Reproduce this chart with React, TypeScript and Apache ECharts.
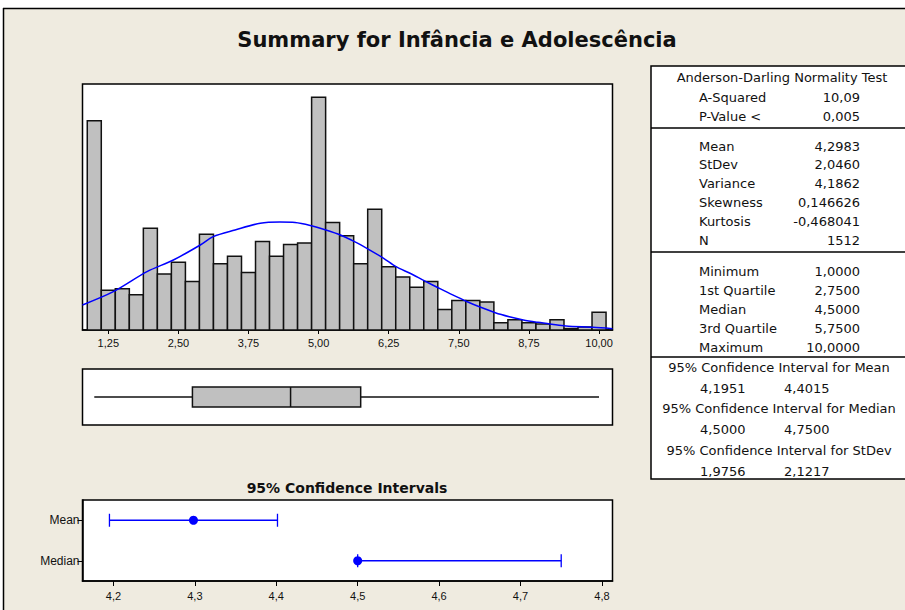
import React, { useEffect, useRef } from "react";
import * as echarts from "echarts";

// ---------- data ----------
const TITLE = "Summary for Infância e Adolescência";
const BIN_WIDTH = 0.25;
const BIN_MIDS = [1, 1.25, 1.5, 1.75, 2, 2.25, 2.5, 2.75, 3, 3.25, 3.5, 3.75, 4, 4.25, 4.5, 4.75, 5, 5.25, 5.5, 5.75, 6, 6.25, 6.5, 6.75, 7, 7.25, 7.5, 7.75, 8, 8.25, 8.5, 8.75, 9, 9.25, 9.5, 9.75, 10];
const BIN_COUNTS = [142, 27, 28, 24, 69, 38, 46, 33, 65, 45, 50, 39, 60, 50, 58, 59, 158, 73, 64, 45, 82, 43, 36, 29, 33, 14, 20, 20, 19, 5, 7, 5, 4, 7, 1, 2, 12];
const HIST_TICKS = [1.25, 2.5, 3.75, 5, 6.25, 7.5, 8.75, 10];
const CURVE_X = [0.79, 1.34, 1.94, 2.41, 2.89, 3.12, 3.51, 3.96, 4.31, 4.58, 4.85, 5.13, 5.39, 5.64, 5.89, 6.16, 6.38, 6.63, 6.89, 7.14, 7.39, 7.65, 7.89, 8.15, 8.4, 8.65, 8.91, 9.16, 9.41, 9.89, 10.24];
const CURVE_Y = [17.0, 26.0, 39.6, 47.5, 57.7, 63.4, 67.9, 72.5, 73.3, 73.0, 71.0, 67.9, 64.5, 60.0, 54.8, 48.7, 43.0, 38.5, 33.3, 28.5, 23.8, 19.2, 15.4, 11.7, 9.0, 6.8, 5.2, 3.9, 2.7, 1.8, 0.9];

const BOX_STATS = [1.0, 2.75, 4.5, 5.75, 10.0]; // min, Q1, median, Q3, max

const CI_ROWS = ["Mean", "Median"];
const CI_LOW = [4.1951, 4.5];
const CI_HIGH = [4.4015, 4.75];
const CI_POINT = [4.2983, 4.5];
const CI_TICKS = [4.2, 4.3, 4.4, 4.5, 4.6, 4.7, 4.8];

const AD_TITLE = "Anderson-Darling Normality Test";
const AD_LABELS = ["A-Squared", "P-Value <"];
const AD_VALUES = ["10,09", "0,005"];
const DESC_LABELS = ["Mean", "StDev", "Variance", "Skewness", "Kurtosis", "N"];
const DESC_VALUES = ["4,2983", "2,0460", "4,1862", "0,146626", "-0,468041", "1512"];
const QUART_LABELS = ["Minimum", "1st Quartile", "Median", "3rd Quartile", "Maximum"];
const QUART_VALUES = ["1,0000", "2,7500", "4,5000", "5,7500", "10,0000"];
const CI_TITLES = ["95% Confidence Interval for Mean", "95% Confidence Interval for Median", "95% Confidence Interval for StDev"];
const CI_TABLE_LOW = ["4,1951", "4,5000", "1,9756"];
const CI_TABLE_HIGH = ["4,4015", "4,7500", "2,1217"];

// ---------- layout ----------
const BG = "#EFEBE0";
const PLOT_L = 82.5;
const PLOT_W = 530;
const TFONT = '13px "DejaVu Sans", sans-serif';

function txt(text: string, x: number, y: number, align: string, font = TFONT, fill = "#111") {
  return {
    type: "text",
    x,
    y,
    silent: true,
    style: { text, fill, font, align, verticalAlign: "middle", textAlign: align, textVerticalAlign: "middle" },
  };
}

export default function App() {
  const ref = useRef<HTMLDivElement>(null);
  useEffect(() => {
    if (!ref.current) return;
    const chart = echarts.init(ref.current, null, { renderer: "svg" });

    const graphics: any[] = [];
    // page frame
    graphics.push({ type: "rect", shape: { x: 0, y: 0, width: 905, height: 8 }, style: { fill: "#fff" }, silent: true });
    graphics.push({ type: "rect", shape: { x: 0, y: 0, width: 3, height: 610 }, style: { fill: "#fff" }, silent: true });
    graphics.push({ type: "line", shape: { x1: 3, y1: 8.5, x2: 905, y2: 8.5 }, style: { stroke: "#000", lineWidth: 1.5 }, silent: true });
    graphics.push({ type: "line", shape: { x1: 3.5, y1: 8, x2: 3.5, y2: 610 }, style: { stroke: "#000", lineWidth: 1.5 }, silent: true });
    // titles
    graphics.push(txt(TITLE, 457, 40, "center", 'bold 21px "DejaVu Sans", sans-serif', "#111"));
    graphics.push(txt("95% Confidence Intervals", 347, 488, "center", 'bold 14px "DejaVu Sans", sans-serif', "#111"));

    // table
    const TL = 651, TT = 66, TR = 912, TB = 479;
    graphics.push({ type: "rect", shape: { x: TL, y: TT, width: TR - TL, height: TB - TT }, style: { fill: "#fff", stroke: "#000", lineWidth: 1.5 }, silent: true });
    [128, 252, 357].forEach((y) =>
      graphics.push({ type: "line", shape: { x1: TL, y1: y, x2: TR, y2: y }, style: { stroke: "#000", lineWidth: 1.5 }, silent: true })
    );
    const LX = 699, VX = 860;
    graphics.push(txt(AD_TITLE, 782, 77, "center"));
    const adY = [97, 116];
    AD_LABELS.forEach((l, i) => {
      graphics.push(txt(l, LX, adY[i], "left"));
      graphics.push(txt(AD_VALUES[i], VX, adY[i], "right"));
    });
    DESC_LABELS.forEach((l, i) => {
      const y = 146 + i * 18.8;
      graphics.push(txt(l, LX, y, "left"));
      graphics.push(txt(DESC_VALUES[i], VX, y, "right"));
    });
    QUART_LABELS.forEach((l, i) => {
      const y = 271 + i * 19;
      graphics.push(txt(l, LX, y, "left"));
      graphics.push(txt(QUART_VALUES[i], VX, y, "right"));
    });
    CI_TITLES.forEach((t, i) => {
      const y = 367 + i * 41.5;
      graphics.push(txt(t, 779, y, "center"));
      graphics.push(txt(CI_TABLE_LOW[i], 700, y + 21, "left"));
      graphics.push(txt(CI_TABLE_HIGH[i], 784, y + 21, "left"));
    });

    const histData = BIN_MIDS.map((m, i) => [m, BIN_COUNTS[i]]);
    const curveData = CURVE_X.map((x, i) => [x, CURVE_Y[i]]);
    const ciData = CI_ROWS.map((_, i) => [CI_LOW[i], CI_HIGH[i], CI_POINT[i], i]);

    const tickLabel = { color: "#111", fontSize: 11, fontFamily: '"Liberation Sans", Arial, sans-serif' };

    chart.setOption({
      animation: false,
      backgroundColor: BG,
      graphic: graphics,
      grid: [
        { left: PLOT_L, top: 84, width: PLOT_W, height: 246, show: true, backgroundColor: "#fff", borderColor: "#000", borderWidth: 1.5 },
        { left: PLOT_L, top: 369, width: PLOT_W, height: 56, show: true, backgroundColor: "#fff", borderColor: "#000", borderWidth: 1.5 },
        { left: PLOT_L, top: 500, width: PLOT_W, height: 81, show: true, backgroundColor: "#fff", borderColor: "#000", borderWidth: 1.5 },
      ],
      xAxis: [
        {
          type: "value", gridIndex: 0, min: 0.79, max: 10.24,
          axisLine: { show: true, lineStyle: { color: "#000", width: 1.5 } },
          axisTick: { show: true, length: 4, customValues: HIST_TICKS, lineStyle: { color: "#000" } },
          axisLabel: { ...tickLabel, margin: 7, customValues: HIST_TICKS, formatter: (v: number) => v.toFixed(2).replace(".", ",") },
          splitLine: { show: false },
        },
        { type: "value", gridIndex: 1, min: 0.79, max: 10.24, show: false },
        {
          type: "value", gridIndex: 2, min: 4.162, max: 4.813,
          axisLine: { show: true, lineStyle: { color: "#000", width: 1.5 } },
          axisTick: { show: true, length: 5, customValues: CI_TICKS, lineStyle: { color: "#000" } },
          axisLabel: { ...tickLabel, margin: 9, customValues: CI_TICKS, formatter: (v: number) => v.toFixed(1).replace(".", ",") },
          splitLine: { show: false },
        },
      ],
      yAxis: [
        { type: "value", gridIndex: 0, min: 0, max: 167, show: false },
        { type: "value", gridIndex: 1, min: 0, max: 1, show: false },
        {
          type: "category", gridIndex: 2, data: CI_ROWS, inverse: true,
          axisLine: { show: true, lineStyle: { color: "#000", width: 1.5 } },
          axisTick: { show: true, length: 5, alignWithLabel: true, lineStyle: { color: "#000" } },
          axisLabel: { color: "#111", fontSize: 12, fontFamily: '"Liberation Sans", Arial, sans-serif', margin: 3 },
          splitLine: { show: false },
        },
      ],
      series: [
        {
          type: "custom", xAxisIndex: 0, yAxisIndex: 0, data: histData, encode: { x: 0, y: 1 }, z: 2,
          renderItem: (params: any, api: any) => {
            const m = api.value(0), c = api.value(1);
            const p0 = api.coord([m - BIN_WIDTH / 2, c]);
            const p1 = api.coord([m + BIN_WIDTH / 2, 0]);
            return {
              type: "rect",
              shape: { x: p0[0], y: p0[1], width: p1[0] - p0[0], height: p1[1] - p0[1] },
              style: { fill: "#C0C0C0", stroke: "#111", lineWidth: 1.5 },
            };
          },
        },
        {
          type: "line", xAxisIndex: 0, yAxisIndex: 0, data: curveData, smooth: 0.3, showSymbol: false, z: 3,
          lineStyle: { color: "#0000FF", width: 1.5 },
        },
        {
          type: "custom", xAxisIndex: 1, yAxisIndex: 1, data: [BOX_STATS], encode: { x: [0, 1, 2, 3, 4] }, z: 2,
          renderItem: (params: any, api: any) => {
            const pts = [0, 1, 2, 3, 4].map((d) => api.coord([api.value(d), 0.5]));
            const cy = pts[0][1];
            const h = 10;
            const st = { stroke: "#111", lineWidth: 1.5 };
            return {
              type: "group",
              children: [
                { type: "line", shape: { x1: pts[0][0], y1: cy, x2: pts[1][0], y2: cy }, style: st },
                { type: "line", shape: { x1: pts[3][0], y1: cy, x2: pts[4][0], y2: cy }, style: st },
                { type: "rect", shape: { x: pts[1][0], y: cy - h, width: pts[3][0] - pts[1][0], height: 2 * h }, style: { fill: "#C0C0C0", stroke: "#111", lineWidth: 1.5 } },
                { type: "line", shape: { x1: pts[2][0], y1: cy - h, x2: pts[2][0], y2: cy + h }, style: st },
              ],
            };
          },
        },
        {
          type: "custom", xAxisIndex: 2, yAxisIndex: 2, data: ciData, encode: { x: [0, 1, 2], y: 3 }, z: 3,
          renderItem: (params: any, api: any) => {
            const row = api.value(3);
            const a = api.coord([api.value(0), row]);
            const b = api.coord([api.value(1), row]);
            const p = api.coord([api.value(2), row]);
            const st = { stroke: "#0000FF", lineWidth: 1.3 };
            const ch = 6.5;
            return {
              type: "group",
              children: [
                { type: "line", shape: { x1: a[0], y1: a[1], x2: b[0], y2: b[1] }, style: st },
                { type: "line", shape: { x1: a[0], y1: a[1] - ch, x2: a[0], y2: a[1] + ch }, style: st },
                { type: "line", shape: { x1: b[0], y1: b[1] - ch, x2: b[0], y2: b[1] + ch }, style: st },
                { type: "circle", shape: { cx: p[0], cy: p[1], r: 4.5 }, style: { fill: "#0000FF" } },
              ],
            };
          },
        },
      ],
    });
    return () => chart.dispose();
  }, []);
  return <div ref={ref} style={{ position: "absolute", left: 0, top: 0, width: 905, height: 610 }} />;
}
